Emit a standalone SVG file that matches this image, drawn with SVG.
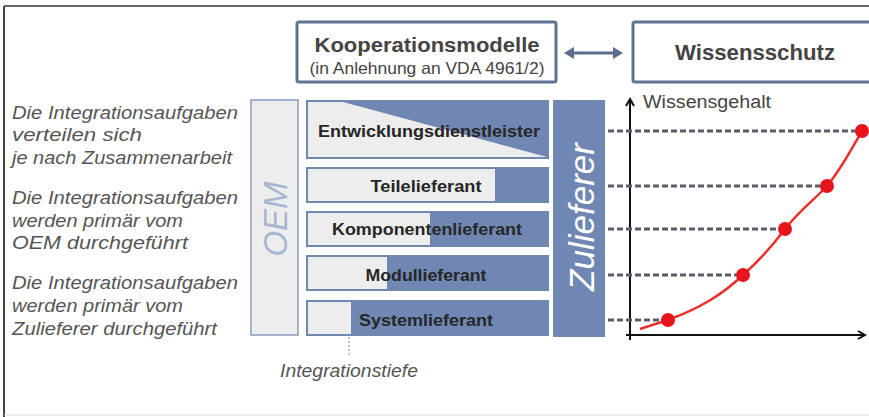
<svg xmlns="http://www.w3.org/2000/svg" width="869" height="417" viewBox="0 0 869 417">
<defs>
<style>
.t{font-family:"Liberation Sans",Arial,sans-serif}
.left{font-size:18px;font-style:italic;fill:#555}
.row{fill:#ededed;stroke:#7088b0;stroke-width:2}
.blue{fill:#6f87b2}
.lab{font-size:17px;font-weight:bold;fill:#262626;text-anchor:middle}
.dash{stroke:#5c5c6a;stroke-width:3;stroke-dasharray:6 3;fill:none}
.dot{fill:#e8141c}
.hdr{fill:#fff;stroke:#5f7295;stroke-width:3}
</style>
<marker id="ah" markerWidth="10" markerHeight="10" refX="8" refY="5" orient="auto" markerUnits="userSpaceOnUse">
<path d="M1,1 L8,5 L1,9" fill="none" stroke="#111" stroke-width="2"/>
</marker>
</defs>
<rect width="869" height="417" fill="#fff"/>
<line x1="4" y1="6" x2="869" y2="6" stroke="#333" stroke-width="1.5"/>
<line x1="4" y1="6" x2="4" y2="417" stroke="#444" stroke-width="2"/>
<line x1="4" y1="415" x2="869" y2="415" stroke="#ddd" stroke-width="1"/>

<g id="left-texts" class="t left">
<text x="12" y="119" textLength="226" lengthAdjust="spacingAndGlyphs">Die Integrationsaufgaben</text>
<text x="12" y="141" textLength="130" lengthAdjust="spacingAndGlyphs">verteilen sich</text>
<text x="12" y="164" textLength="220" lengthAdjust="spacingAndGlyphs">je nach Zusammenarbeit</text>
<text x="12" y="204" textLength="226" lengthAdjust="spacingAndGlyphs">Die Integrationsaufgaben</text>
<text x="12" y="227" textLength="171" lengthAdjust="spacingAndGlyphs">werden primär vom</text>
<text x="12" y="249" textLength="176" lengthAdjust="spacingAndGlyphs">OEM durchgeführt</text>
<text x="12" y="289" textLength="226" lengthAdjust="spacingAndGlyphs">Die Integrationsaufgaben</text>
<text x="12" y="312" textLength="171" lengthAdjust="spacingAndGlyphs">werden primär vom</text>
<text x="12" y="335" textLength="205" lengthAdjust="spacingAndGlyphs">Zulieferer durchgeführt</text>
</g>

<g id="kooperationsmodelle">
<rect class="hdr" x="297" y="22" width="259" height="60" rx="2"/>
<text class="t" x="427" y="52" font-size="21" font-weight="bold" fill="#444" text-anchor="middle" textLength="225" lengthAdjust="spacingAndGlyphs">Kooperationsmodelle</text>
<text class="t" x="427" y="74" font-size="16.5" fill="#444" text-anchor="middle" textLength="235" lengthAdjust="spacingAndGlyphs">(in Anlehnung an VDA 4961/2)</text>
</g>

<g id="wissensschutz">
<rect class="hdr" x="633" y="22" width="240" height="60" rx="2"/>
<text class="t" x="755" y="60" font-size="22" font-weight="bold" fill="#444" text-anchor="middle" textLength="160" lengthAdjust="spacingAndGlyphs">Wissensschutz</text>
</g>

<g id="oem">
<rect x="251" y="100" width="47" height="235" fill="#ededee" stroke="#8a9cc0" stroke-width="1.5"/>
<text class="t" transform="translate(287,219) rotate(-90)" font-size="33" font-style="italic" fill="#a8b6cf" text-anchor="middle">OEM</text>
</g>

<g id="zulieferer">
<rect x="553" y="100" width="52" height="237" fill="#6f87b2"/>
<text class="t" transform="translate(594,217) rotate(-90)" font-size="35" font-style="italic" fill="#fff" text-anchor="middle">Zulieferer</text>
</g>

<g id="connectors">
<line x1="567" y1="53" x2="620" y2="53" stroke="#5a6d8f" stroke-width="3"/>
<path d="M564,53 L574,47 L574,59 Z" fill="#5a6d8f"/>
<path d="M623,53 L613,47 L613,59 Z" fill="#5a6d8f"/>
<line x1="630" y1="340" x2="630" y2="99" stroke="#111" stroke-width="2" marker-end="url(#ah)"/>
<line x1="626" y1="335" x2="865" y2="335" stroke="#111" stroke-width="2" marker-end="url(#ah)"/>
<line x1="349" y1="337" x2="349" y2="356" stroke="#8a9cc0" stroke-width="1.2" stroke-dasharray="2 2"/>
<line class="dash" x1="542" y1="131" x2="549" y2="131"/>
<line class="dash" x1="608" y1="131" x2="856" y2="131"/>
<line class="dash" x1="494" y1="186" x2="549" y2="186"/>
<line class="dash" x1="608" y1="186" x2="821" y2="186"/>
<line class="dash" x1="528" y1="229" x2="549" y2="229"/>
<line class="dash" x1="608" y1="229" x2="779" y2="229"/>
<line class="dash" x1="496" y1="275" x2="549" y2="275"/>
<line class="dash" x1="608" y1="275" x2="737" y2="275"/>
<line class="dash" x1="502" y1="320" x2="549" y2="320"/>
<line class="dash" x1="608" y1="320" x2="662" y2="320"/>
<path d="M640,329 C655,324 662,322 668,320 C700,308 722,295 743,275 C760,260 773,245 785,229 C800,210 814,200 827,186 C842,168 852,148 862,131" fill="none" stroke="#e8302a" stroke-width="2.5"/>
</g>

<g id="points">
<circle class="dot" cx="668" cy="320" r="7"/>
<circle class="dot" cx="743" cy="275" r="7"/>
<circle class="dot" cx="785" cy="229" r="7"/>
<circle class="dot" cx="827" cy="186" r="7"/>
<circle class="dot" cx="862" cy="131" r="7"/>
</g>

<text class="t" x="643" y="108" font-size="18" fill="#444" textLength="128" lengthAdjust="spacingAndGlyphs">Wissensgehalt</text>

<g id="entwicklungsdienstleister">
<rect class="row" x="307" y="101" width="241" height="57"/>
<path class="blue" d="M343,102 L547,102 L547,157 Z"/>
<text class="t lab" x="429" y="137" textLength="222" lengthAdjust="spacingAndGlyphs">Entwicklungsdienstleister</text>
</g>
<g id="teilelieferant">
<rect class="row" x="307" y="168" width="241" height="34"/>
<rect class="blue" x="495" y="169" width="52" height="32"/>
<text class="t lab" x="426" y="192" textLength="111" lengthAdjust="spacingAndGlyphs">Teilelieferant</text>
</g>
<g id="komponentenlieferant">
<rect class="row" x="307" y="212" width="241" height="34"/>
<rect class="blue" x="430" y="213" width="117" height="32"/>
<text class="t lab" x="427" y="235" textLength="190" lengthAdjust="spacingAndGlyphs">Komponentenlieferant</text>
</g>
<g id="modullieferant">
<rect class="row" x="307" y="256" width="241" height="34"/>
<rect class="blue" x="387" y="257" width="160" height="32"/>
<text class="t lab" x="426" y="281" textLength="121" lengthAdjust="spacingAndGlyphs">Modullieferant</text>
</g>
<g id="systemlieferant">
<rect class="row" x="307" y="301" width="241" height="34"/>
<rect class="blue" x="351" y="302" width="196" height="32"/>
<text class="t lab" x="426" y="326" textLength="134" lengthAdjust="spacingAndGlyphs">Systemlieferant</text>
</g>

<text class="t" x="280" y="377" font-size="18" font-style="italic" fill="#555" textLength="138" lengthAdjust="spacingAndGlyphs">Integrationstiefe</text>
</svg>
